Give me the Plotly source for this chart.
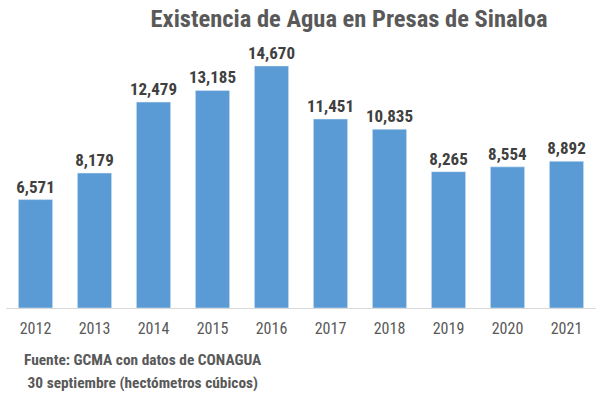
import plotly.graph_objects as go

years = ["2012", "2013", "2014", "2015", "2016", "2017", "2018", "2019", "2020", "2021"]
values = [6571, 8179, 12479, 13185, 14670, 11451, 10835, 8265, 8554, 8892]
labels = [f"{v:,}" for v in values]

FONT = "Roboto Condensed"

fig = go.Figure(go.Bar(
    x=years, y=values, text=labels, textposition="outside",
    marker=dict(color="#5B9BD5"),
    textfont=dict(family=FONT, size=17, color="#404040", weight="bold"),
    cliponaxis=False, width=0.58, constraintext="none",
))

fig.update_layout(
    width=600, height=396,
    margin=dict(l=6, r=4, t=44, b=88, autoexpand=False),
    paper_bgcolor="white", plot_bgcolor="white",
    showlegend=False,
    title=dict(text="<b>Existencia de Agua en Presas de Sinaloa</b>", x=349/600, xanchor="center",
               y=1 - 18/396, yanchor="middle",
               font=dict(family=FONT, size=24.5, color="#595959")),
    xaxis=dict(showline=True, linecolor="#D9D9D9", linewidth=1, ticks="", automargin=False,
               ticklabelstandoff=6,
               tickfont=dict(family=FONT, size=16, color="#595959")),
    yaxis=dict(visible=False, range=[0, 16000], automargin=False),
)

ann = [("<b>Fuente: GCMA con datos de CONAGUA</b>", 22, 360),
       ("<b> 30 septiembre (hectómetros cúbicos)</b>", 22, 383)]
for text, px, py in ann:
    fig.add_annotation(text=text, x=(px - 6) / (600 - 10), y=(396 - 88 - py) / (396 - 44 - 88),
                       xref="paper", yref="paper", showarrow=False, xanchor="left", yanchor="middle",
                       font=dict(family=FONT, size=15.4, color="#595959"))

fig.write_html("out.html", config={"displayModeBar": False},
               post_script="document.body.style.margin='0px';")
